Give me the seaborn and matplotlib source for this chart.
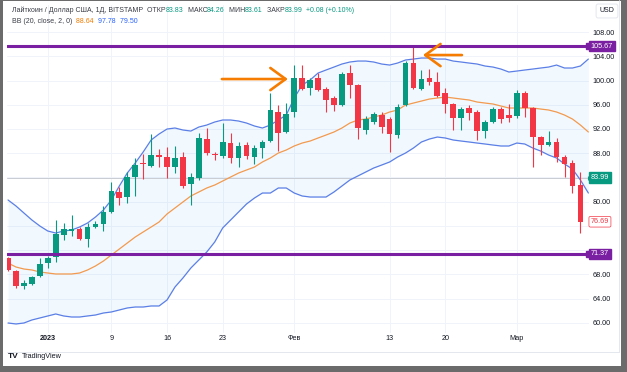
import pandas as pd
import numpy as np
import matplotlib.pyplot as plt
import matplotlib.dates as mdates
import matplotlib.transforms as mtransforms
from matplotlib.patches import Rectangle
from matplotlib.lines import Line2D
import seaborn as sns

sns.set_theme(style="white")
plt.rcParams['font.family'] = ['Liberation Sans', 'DejaVu Sans']

# daily candles, LTC/USD Bitstamp, 27 Dec 2022 .. 10 Mar 2023
start_day = '2022-12-27'
opens = [70.7, 68.6, 66.1, 66.4, 67.7, 69.9, 70.9, 74.5, 75.2, 75.5, 73.8, 75.8, 76.3, 78.3, 81.6, 80.8,
         84.1, 86.4, 85.9, 87.7, 87.4, 85.7, 87.4, 82.9, 83.9, 90.3, 87.9, 87.5, 89.7, 87.2, 89.4, 87.4,
         88.9, 90.0, 94.8, 91.5, 94.8, 100.4, 98.8, 100.4, 98.6, 97.1, 96.0, 101.2, 99.25, 91.8, 93.1,
         94.3, 93.6, 91.0, 95.95, 102.9, 98.6, 100.4, 99.75, 97.9, 96.1, 93.8, 95.5, 94.8, 91.7, 93.15,
         95.3, 94.3, 94.1, 97.9, 95.5, 90.7, 89.35, 89.85, 87.4, 86.4, 82.75, 83.83]
highs = [70.9, 68.8, 67.1, 67.8, 70.7, 71.0, 77.0, 76.5, 77.8, 75.8, 76.5, 76.8, 79.3, 83.3, 82.4, 84.9,
         87.2, 87.9, 91.2, 88.7, 89.0, 89.2, 88.2, 84.7, 91.3, 92.2, 88.2, 93.0, 91.3, 89.8, 89.8, 89.4,
         90.2, 97.9, 95.95, 96.3, 102.6, 102.6, 100.4, 101.2, 98.9, 97.4, 101.4, 102.6, 99.4, 94.1, 94.8,
         94.8, 94.0, 96.1, 103.2, 105.67, 101.7, 101.9, 101.4, 98.8, 96.3, 95.6, 95.95, 95.1, 93.5, 95.6,
         95.6, 96.1, 98.4, 98.3, 95.6, 90.8, 91.7, 90.5, 87.7, 86.9, 84.9, 84.26]
lows = [68.5, 65.8, 65.6, 66.3, 67.6, 69.1, 70.1, 73.7, 74.3, 73.7, 72.5, 75.7, 75.2, 78.1, 79.5, 79.8,
        80.9, 83.7, 85.7, 85.7, 83.9, 84.7, 82.3, 79.5, 83.6, 87.7, 86.9, 87.2, 86.4, 85.7, 87.0, 86.2,
        87.2, 89.8, 88.4, 91.3, 94.0, 98.4, 97.6, 98.3, 94.8, 95.0, 95.8, 97.1, 90.3, 91.2, 92.8, 91.3,
        88.2, 90.5, 95.8, 98.6, 98.4, 99.25, 97.3, 94.6, 91.8, 91.8, 93.5, 90.2, 90.5, 93.0, 93.0, 93.15,
        93.8, 94.0, 85.7, 87.7, 89.2, 86.55, 84.1, 81.4, 74.8, 83.61]
closes = [68.7, 66.1, 66.6, 67.6, 69.7, 70.7, 74.7, 75.5, 75.5, 73.8, 75.8, 76.3, 78.3, 81.8, 80.6, 84.1,
          86.1, 86.2, 87.7, 87.4, 85.7, 87.2, 82.6, 84.1, 90.5, 88.0, 87.7, 89.8, 87.2, 89.2, 87.5, 88.9,
          89.8, 95.1, 91.3, 94.5, 100.4, 98.6, 100.1, 98.4, 96.8, 96.0, 101.1, 99.25, 92.2, 93.6, 94.5,
          92.3, 91.2, 95.6, 102.9, 98.8, 100.2, 99.75, 97.4, 96.1, 93.8, 95.3, 94.6, 91.7, 93.15, 95.3,
          93.6, 93.8, 97.9, 95.5, 90.7, 89.35, 89.85, 87.4, 86.2, 82.6, 76.69, 83.99]

# Bollinger bands (20, 2)
bb_upper = [80.28, 79.29, 78.13, 76.98, 75.99, 75.16, 74.83, 75.16, 75.33, 75.82, 76.48, 77.47, 78.63,
            80.28, 82.59, 84.73, 86.38, 88.20, 90.18, 91.17, 91.99, 92.16, 91.83, 91.66, 92.32, 92.65,
            93.15, 93.48, 93.48, 93.31, 92.98, 92.49, 92.16, 92.65, 93.48, 94.30, 97.11, 99.25, 100.08,
            101.23, 101.73, 102.22, 102.72, 103.05, 103.21, 103.21, 103.05, 102.72, 102.55, 102.88,
            103.38, 103.54, 103.71, 103.71, 103.54, 103.54, 103.21, 103.05, 102.88, 102.72, 102.39,
            102.22, 101.89, 101.40, 101.56, 101.73, 101.89, 102.06, 102.22, 102.55, 102.06, 102.06,
            102.39, 103.54]
bb_basis = [69.88, 69.22, 68.89, 68.73, 68.40, 68.23, 68.07, 68.07, 68.07, 68.23, 68.73, 69.39, 70.21,
            71.20, 72.19, 73.18, 74.17, 75.00, 75.82, 76.65, 77.97, 78.96, 79.95, 80.94, 81.60, 82.26,
            82.75, 83.41, 84.07, 84.73, 85.23, 85.72, 86.55, 87.21, 88.03, 88.53, 89.19, 89.68, 90.01,
            90.51, 91.00, 91.50, 92.16, 92.98, 93.48, 93.64, 93.97, 94.30, 94.80, 95.13, 95.95, 96.28,
            96.61, 96.94, 97.11, 97.27, 97.11, 96.94, 96.78, 96.45, 96.28, 96.12, 95.79, 95.46, 95.46,
            95.46, 95.46, 95.29, 95.13, 94.80, 94.30, 93.64, 92.65, 91.50]
bb_lower = [59.98, 59.82, 59.98, 60.48, 60.81, 61.14, 61.47, 61.14, 60.97, 60.97, 61.14, 61.30, 61.63,
            61.80, 62.13, 62.46, 62.62, 62.62, 62.79, 62.79, 63.78, 65.92, 67.41, 69.06, 70.38, 71.70,
            73.35, 75.66, 76.98, 78.30, 79.62, 80.61, 81.43, 81.43, 82.26, 82.26, 81.43, 80.94, 80.77,
            80.77, 80.77, 81.60, 82.59, 83.58, 84.24, 84.90, 85.56, 86.05, 86.55, 87.37, 88.03, 88.86,
            89.85, 90.34, 90.67, 90.51, 90.18, 90.01, 89.85, 89.68, 89.52, 89.35, 89.19, 89.19, 89.68,
            89.52, 88.86, 88.36, 87.70, 87.21, 86.22, 85.39, 83.58, 81.43]

tick_days = ['2023-01-01', '2023-01-09', '2023-01-16', '2023-01-23', '2023-02-01',
             '2023-02-13', '2023-02-20', '2023-03-01']
tick_labels = ['2023', '9', '16', '23', 'Фев', '13', '20', 'Мар']
price_ticks = [60, 64, 68, 72, 76, 80, 84, 88, 92, 96, 100, 104, 108]
hidden_ticks = [72, 76, 84]   # covered by the price labels
level_lines = [105.67, 71.37]
last_close = 83.99
prev_close = 76.69
ohlc_now = [83.83, 84.26, 83.61, 83.99]
bb_now = [88.64, 97.78, 79.50]

GREEN = '#089981'
RED = '#f23645'
PURPLE = '#7b1fa2'
BLUE = '#5b7fe6'
ORANGE = '#f39a4e'
DARK = '#3a3d46'

df = pd.DataFrame({'date': pd.date_range(start_day, periods=len(opens), freq='D'),
                   'open': opens, 'high': highs, 'low': lows, 'close': closes,
                   'upper': bb_upper, 'basis': bb_basis, 'lower': bb_lower})
colors = np.where(df['close'] >= df['open'], GREEN, RED)

fig = plt.figure(figsize=(6.27, 3.72), dpi=100)
ax = fig.add_axes([7/627, 39/372, 582/627, 328/372])

# bands
ax.fill_between(df['date'], df['lower'], df['upper'], color='#2196f3', alpha=0.06, lw=0, zorder=1)
sns.lineplot(data=df, x='date', y='upper', color=BLUE, lw=0.9, ax=ax, zorder=2)
sns.lineplot(data=df, x='date', y='lower', color=BLUE, lw=0.9, ax=ax, zorder=2)
sns.lineplot(data=df, x='date', y='basis', color=ORANGE, lw=0.9, ax=ax, zorder=2)

# candles
ax.vlines(df['date'], df['low'], df['high'], colors=colors, lw=0.8, zorder=3)
body = (df['close'] - df['open']).abs().clip(lower=0.15)
ax.bar(df['date'], body, bottom=np.minimum(df['open'], df['close']), width=0.72,
       color=colors, lw=0, zorder=4)

# horizontal levels
btr = mtransforms.blended_transform_factory(ax.transAxes, ax.transData)
ax.axhline(last_close, color='#c9ccd3', lw=0.7, zorder=1.5)
for lv in level_lines:
    ax.axhline(lv, color=PURPLE, lw=2.2, zorder=5)
    ax.plot([1.0], [lv], marker='s', ms=4.5, color=PURPLE, clip_on=False, zorder=6, transform=btr)

# arrows
d0 = df['date'][0]
arrow = dict(arrowstyle='->,head_length=1.1,head_width=0.8', color='#f57c00', lw=1.9,
             mutation_scale=10, shrinkA=0, shrinkB=0)
ax.annotate('', xy=(d0 + pd.Timedelta(days=35.2), 100.24),
            xytext=(d0 + pd.Timedelta(days=26.9), 100.24), arrowprops=arrow, zorder=7)
ax.annotate('', xy=(d0 + pd.Timedelta(days=52.2), 104.2),
            xytext=(d0 + pd.Timedelta(days=57.1), 104.2), arrowprops=arrow, zorder=7)

# axes
x0 = mdates.date2num(d0)
ax.set_xlim(x0 - 0.13, x0 + 73.08)
ax.set_ylim(58.33, 112.46)
ax.set_xticks(pd.to_datetime(tick_days))
ax.set_xticklabels(tick_labels)
ax.get_xticklabels()[0].set_fontweight('bold')
ax.yaxis.tick_right()
ax.set_yticks(price_ticks)
ax.set_yticklabels(['' if p in hidden_ticks else f'{p:.2f}' for p in price_ticks])
ax.tick_params(axis='x', length=0, pad=1.5, labelsize=5.2, colors='#131722')
ax.tick_params(axis='y', length=0, pad=2.5, labelsize=5.2, colors='#131722')
ax.set_xlabel('')
ax.set_ylabel('')
ax.grid(True, color='#f0f3fa', lw=0.7)
for s in ax.spines.values():
    s.set_visible(False)

# price scale labels
for lv in level_lines:
    ax.text(1.003, lv, f'{lv:.2f}', transform=btr, ha='left', va='center', fontsize=5.2, color='white',
            clip_on=False, zorder=8, bbox=dict(boxstyle='square,pad=0.25', fc=PURPLE, ec=PURPLE))
ax.text(1.003, last_close, f'{last_close:.2f}', transform=btr, ha='left', va='center', fontsize=5.2,
        color='white', clip_on=False, zorder=8, bbox=dict(boxstyle='square,pad=0.25', fc=GREEN, ec=GREEN))
ax.text(1.003, prev_close, f'{prev_close:.2f}', transform=btr, ha='left', va='center', fontsize=5.2,
        color=RED, clip_on=False, zorder=8,
        bbox=dict(boxstyle='round,pad=0.25,rounding_size=0.2', fc='white', ec=RED, lw=0.5))

# header legend
def chain(parts, x, y):
    t = fig.text(x, y, parts[0][0], color=parts[0][1], fontsize=5, va='bottom', ha='left')
    for s, c in parts[1:]:
        t = ax.annotate(s, xy=(1, 0), xycoords=t, color=c, fontsize=5, va='bottom', ha='left',
                        annotation_clip=False)

chain([('Лайткоин / Доллар США, 1Д, BITSTAMP', DARK), ('  ОТКР', DARK), (f'{ohlc_now[0]:.2f}', GREEN),
       ('  МАКС', DARK), (f'{ohlc_now[1]:.2f}', GREEN), ('  МИН', DARK), (f'{ohlc_now[2]:.2f}', GREEN),
       ('  ЗАКР', DARK), (f'{ohlc_now[3]:.2f}', GREEN), ('  +0.08 (+0.10%)', GREEN)],
      12/627, 1 - 14/372)
chain([('BB (20, close, 2, 0)', DARK), (f'  {bb_now[0]:.2f}', '#f57c00'), (f'  {bb_now[1]:.2f}', '#2962ff'),
       (f'  {bb_now[2]:.2f}', '#2962ff')], 12/627, 1 - 25/372)

fig.text(607/627, 1 - 11/372, 'USD', fontsize=5, ha='center', va='center', color='#131722',
         bbox=dict(boxstyle='round,pad=0.5,rounding_size=0.3', fc='white', ec='#e0e3eb', lw=0.6))

# TradingView mark
fig.text(8/627, 1 - 357/372, 'TV', fontsize=6, fontweight='bold', color='#131722', va='center')
fig.text(22/627, 1 - 357/372, 'TradingView', fontsize=5.2, color='#131722', va='center')

# pane borders and outer frame
fig.add_artist(Line2D([7/627, 619/627], [1 - 352/372] * 2, color='#e0e3eb', lw=0.6))
fig.add_artist(Line2D([619/627] * 2, [1 - 352/372, 1], color='#e0e3eb', lw=0.6))
for r in [(0, 0, 3/627, 1), (621/627, 0, 6/627, 1), (0, 0, 1, 6/372), (0, 1 - 1/372, 1, 1/372)]:
    fig.add_artist(Rectangle(r[:2], r[2], r[3], transform=fig.transFigure, fc='#6b6b6b', ec='none'))

fig.savefig('out.png', dpi=100)
